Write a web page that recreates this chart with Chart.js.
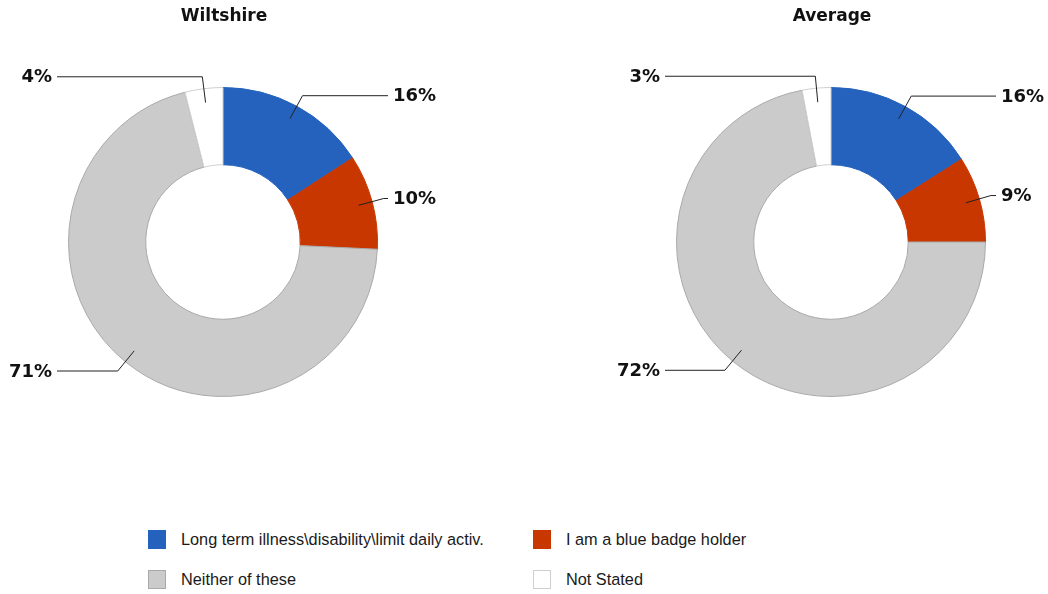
<!DOCTYPE html>
<html>
<head>
<meta charset="utf-8">
<script src="https://cdn.jsdelivr.net/npm/chart.js@4"></script>
<style>
  html, body { margin: 0; padding: 0; background: #fff; }
  #wrap { position: relative; width: 1048px; height: 594px; overflow: hidden; }
  .cv { position: absolute; top: 0; }
  .legend { position: absolute; font-family: "Liberation Sans", Arial, sans-serif; font-size: 16.3px; color: #1a1a1a; }
  .item { position: absolute; display: flex; align-items: center; white-space: nowrap; }
  .box { width: 18px; height: 19px; box-sizing: border-box; margin-right: 15px; }
</style>
</head>
<body>
<div id="wrap">
  <canvas id="c1" class="cv" width="524" height="420" style="left:0px;width:524px;height:420px"></canvas>
  <canvas id="c2" class="cv" width="524" height="420" style="left:524px;width:524px;height:420px"></canvas>
  <div id="legend" class="legend"></div>
</div>
<script>
const categories = ['Long term illness\\disability\\limit daily activ.', 'I am a blue badge holder', 'Neither of these', 'Not Stated'];
const chartTitles = ['Wiltshire', 'Average'];
const wiltshireValues = [16, 10, 71, 4];
const averageValues = [16, 9, 72, 3];
const sliceColors = ['#2462be', '#c83700', '#cbcbcb', '#ffffff'];
const sliceBorders = ['#2462be', '#c83700', '#a9a9a9', '#cfcfcf'];

const leaderPlugin = {
  id: 'leader',
  afterDraw(chart, args, opts) {
    const ctx = chart.ctx;
    const meta = chart.getDatasetMeta(0);
    const vals = chart.data.datasets[0].data;
    ctx.save();
    ctx.fillStyle = '#111';
    ctx.font = 'bold 17px "DejaVu Sans", sans-serif';
    ctx.textAlign = 'center';
    ctx.textBaseline = 'middle';
    const cx0 = meta.data[0].x;
    ctx.fillText(opts.title, cx0 + 1, 17);
    ctx.font = 'bold 18px "DejaVu Sans", sans-serif';
    meta.data.forEach((arc, i) => {
      const mid = (arc.startAngle + arc.endAngle) / 2;
      const cx = arc.x, cy = arc.y;
      const r0 = arc.outerRadius - 14, r1 = arc.outerRadius + 12;
      const x0 = cx + Math.cos(mid) * r0, y0 = cy + Math.sin(mid) * r0;
      const x1 = cx + Math.cos(mid) * r1, y1 = cy + Math.sin(mid) * r1;
      const right = Math.cos(mid) >= 0;
      const x2 = right ? cx + 165 : cx - 166;
      ctx.strokeStyle = '#222';
      ctx.lineWidth = 1;
      ctx.beginPath();
      ctx.moveTo(x0, y0);
      ctx.lineTo(x1, y1);
      ctx.lineTo(x2, y1);
      ctx.stroke();
      ctx.fillStyle = '#111';
      ctx.textAlign = right ? 'left' : 'right';
      ctx.fillText(vals[i] + '%', right ? x2 + 5 : x2 - 5, y1 + 1);
    });
    ctx.restore();
  }
};

function makeChart(id, values, title, padLeft) {
  return new Chart(document.getElementById(id), {
    type: 'doughnut',
    data: {
      labels: categories,
      datasets: [{
        data: values,
        backgroundColor: sliceColors,
        borderColor: sliceBorders,
        borderWidth: 1
      }]
    },
    options: {
      responsive: false,
      animation: false,
      cutout: '50%',
      layout: { padding: { left: padLeft, right: 524 - padLeft - 310, top: 87, bottom: 23 } },
      plugins: {
        legend: { display: false },
        tooltip: { enabled: false },
        title: { display: false },
        leader: { title: title }
      }
    },
    plugins: [leaderPlugin]
  });
}

makeChart('c1', wiltshireValues, chartTitles[0], 68);
makeChart('c2', averageValues, chartTitles[1], 152);

const legend = document.getElementById('legend');
const legendPos = [[148, 540], [533, 540], [148, 580], [533, 580]];
categories.forEach((c, i) => {
  const it = document.createElement('div');
  it.className = 'item';
  it.style.left = legendPos[i][0] + 'px';
  it.style.top = (legendPos[i][1] - 10) + 'px';
  const b = document.createElement('div');
  b.className = 'box';
  b.style.background = sliceColors[i];
  b.style.border = '1px solid ' + sliceBorders[i];
  const t = document.createElement('span');
  t.textContent = c;
  it.appendChild(b);
  it.appendChild(t);
  legend.appendChild(it);
});
</script>
</body>
</html>
